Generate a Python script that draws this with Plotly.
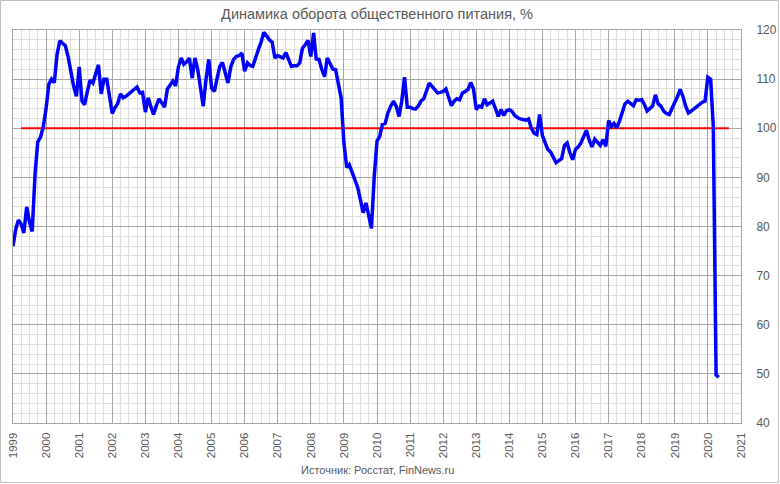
import pandas as pd
import plotly.graph_objects as go

# Monthly values, % to same month of previous year
v1999 = [76, 79.5, 81.3, 80.5, 78.7, 84, 81, 79, 90.5, 97.2, 98.2, 100.3]
v2000 = [104, 109, 110, 109.3, 115, 117.8, 117.3, 116.8, 114.5, 111.5, 108.5, 106.5]
v2001 = [112.5, 105.5, 104.8, 107.5, 109.8, 109.2, 111, 112.9, 107, 110, 110, 106.5]
v2002 = [103, 104.2, 105, 107, 106.2, 106.5, 107, 107.4, 107.8, 108.4, 107.2, 107.3]
v2003 = [103.3, 106.2, 104.5, 102.8, 104.5, 106, 105.2, 104.3, 108, 108.8, 109.6, 108.6]
v2004 = [112.5, 114.3, 113, 113.5, 114.3, 110.2, 114.3, 112, 108, 104.5, 110, 114]
v2005 = [108.2, 107.5, 110, 112.6, 113.4, 111, 109.2, 112.5, 114, 114.6, 114.8, 115.3]
v2006 = [111.6, 113.3, 112.8, 112.6, 114.5, 116, 117.5, 119.5, 118.8, 118, 117.5, 114.3]
v2007 = [114.8, 114.5, 114.3, 115.4, 114, 112.6, 112.7, 112.7, 113.3, 116.3, 117, 117.9]
v2008 = [114.6, 119.4, 114.1, 114, 112, 110.5, 114.3, 113, 112, 111.9, 109, 106.2]
v2009 = [97, 92, 92.6, 91, 89.2, 88, 85.5, 82.8, 84.8, 82, 79.6, 90]
v2010 = [97.4, 98.4, 100.8, 101, 103.1, 104.5, 105.5, 104.5, 102.4, 105.5, 110.4, 104.3]
v2011 = [104.3, 104, 103.9, 104.5, 105.5, 106, 107.5, 109.2, 108.5, 107.8, 107.2, 107.3]
v2012 = [107.5, 108, 106.5, 104.6, 105.5, 106, 105.8, 107.2, 107.5, 107.9, 109.3, 108]
v2013 = [103.8, 104.5, 104.3, 106, 104.8, 105.2, 105.5, 104, 102.4, 103.8, 102.6, 103.6]
v2014 = [103.8, 103.4, 102.6, 102.2, 101.9, 101.8, 101.6, 101.9, 100, 99, 98.7, 102.8]
v2015 = [98.5, 97, 95.7, 95.2, 94, 93, 93.4, 93.8, 96.5, 97, 95, 93.6]
v2016 = [95.7, 96.2, 97, 98.5, 99.6, 97.5, 96.2, 97.8, 97, 96.5, 97.7, 96.3]
v2017 = [101.6, 100.4, 101, 100.1, 101.5, 103.5, 105, 105.5, 105, 104.6, 105.8, 105.7]
v2018 = [105.8, 104.8, 103.5, 104, 104.5, 106.8, 105, 104.5, 103.5, 103, 102.8, 104]
v2019 = [105.2, 106.5, 107.9, 106.5, 104.5, 103.1, 103.5, 104, 104.5, 105, 105.3, 105.5]
v2020 = [110.4, 110, 100.4, 49.8, 49.3]

values = (v1999 + v2000 + v2001 + v2002 + v2003 + v2004 + v2005 + v2006 + v2007
          + v2008 + v2009 + v2010 + v2011 + v2012 + v2013 + v2014 + v2015 + v2016
          + v2017 + v2018 + v2019 + v2020)
dates = pd.date_range("1999-01-01", periods=len(values), freq="MS")

base_dates = ["1999-04-01", "2020-08-20"]
base_values = [100, 100]

title_text = "Динамика оборота общественного питания, %"
source_text = "Источник: Росстат, FinNews.ru"

W, H = 780, 484
ML, MR, MT, MB = 13, 39, 30, 61
pw, ph = W - ML - MR, H - MT - MB

fig = go.Figure()
fig.add_trace(go.Scatter(x=base_dates, y=base_values, mode="lines",
                         line=dict(color="#FF0000", width=2), hoverinfo="skip"))
fig.add_trace(go.Scatter(x=dates, y=values, mode="lines",
                         line=dict(color="#0000FF", width=3.5)))

grey = "#595959"
fig.update_layout(
    width=W, height=H,
    margin=dict(l=ML, r=MR, t=MT, b=MB, autoexpand=False),
    paper_bgcolor="white", plot_bgcolor="white",
    showlegend=False,
    font=dict(family="Liberation Sans, Arial, sans-serif", color=grey, size=11),
    title=dict(text=title_text, x=0.5, xref="paper", xanchor="center",
               y=1 - 14 / H, yref="container", yanchor="middle",
               font=dict(size=14.5, color=grey)),
    xaxis=dict(
        type="date", range=["1999-01-01", "2021-01-01"], automargin=False,
        dtick="M12", tick0="1999-01-01", tickformat="%Y", tickangle=-90,
        showgrid=True, gridcolor="#A6A6A6", gridwidth=1,
        minor=dict(dtick="M3", showgrid=True, gridcolor="#DDDDDD", gridwidth=1),
        showline=True, linecolor="#A6A6A6", linewidth=1, mirror=True,
        ticks="", ticklabelstandoff=4, zeroline=False,
        tickfont=dict(size=11.5, color=grey),
    ),
    yaxis=dict(
        range=[40, 120], dtick=10, side="right", automargin=False,
        showgrid=True, gridcolor="#A6A6A6", gridwidth=1,
        minor=dict(dtick=2, showgrid=True, gridcolor="#DDDDDD", gridwidth=1),
        showline=True, linecolor="#A6A6A6", linewidth=1, mirror=True,
        ticks="", ticklabelstandoff=12, zeroline=False,
        tickfont=dict(size=12, color=grey),
    ),
)

fig.add_annotation(text=source_text, xref="paper", yref="paper",
                   x=(377 - ML) / pw, y=-(470 - MT - ph) / ph,
                   xanchor="center", yanchor="middle", showarrow=False,
                   font=dict(size=11, color=grey))

# outer chart frame
fig.add_shape(type="rect", xref="paper", yref="paper",
              x0=-(ML - 0.5) / pw, x1=1 + (MR - 1.5) / pw,
              y0=-(MB - 1.5) / ph, y1=1 + (MT - 0.5) / ph,
              line=dict(color="#BFBFBF", width=1), layer="below")

fig.write_html(
    "out.html",
    config={"displayModeBar": False},
    post_script="document.body.style.margin='0';document.body.style.overflow='hidden';",
)
